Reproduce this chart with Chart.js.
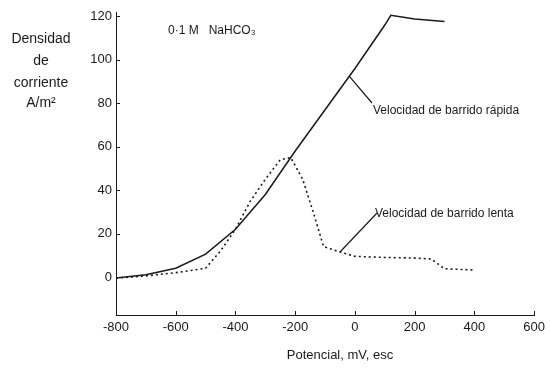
<!DOCTYPE html>
<html>
<head>
<meta charset="utf-8">
<script src="https://cdn.jsdelivr.net/npm/chart.js@4/dist/chart.umd.min.js"></script>
<style>
html,body{margin:0;padding:0;background:#fff;}
#wrap{width:550px;height:374px;position:relative;}
</style>
</head>
<body>
<div id="wrap"><canvas id="chart" width="550" height="374"></canvas></div>
<script>
// Potencial (mV, esc) vs densidad de corriente (A/m2)
var rapida_x = [-800, -700, -600, -500, -400, -300, -200, -100, 0, 100, 120, 200, 300];
var rapida_y = [-0.5, 1, 4, 10.5, 22, 38, 58, 77, 96, 116, 120.5, 118.8, 117.6];

var lenta_x = [-800, -700, -600, -500, -450, -400, -350, -300, -250, -215, -175, -140, -105, -50, 0, 100, 200, 255, 300, 400];
var lenta_y = [-0.5, 0.5, 2, 4, 12, 22, 35, 45, 54, 55, 45, 30, 14, 11.5, 9.5, 9, 8.7, 8.3, 3.8, 3.2];

var y_ticks = [0, 20, 40, 60, 80, 100, 120];
var x_ticks = [-800, -600, -400, -200, 0, 200, 400, 600];

var font_family = "'Liberation Sans', Arial, sans-serif";
var ink = '#1a1a1a';

function pts(xs, ys){
	var out = [];
	for (var i = 0; i < xs.length; i++) {
		out.push({x: xs[i], y: ys[i]});
	}
	return out;
}

// ticks pointing inside + texts + leader lines
var decor = {
	id: 'decor',
	afterDraw: function(chart){
		var c = chart.ctx;
		var xs = chart.scales.x, ys = chart.scales.y;
		var area = chart.chartArea;
		c.save();
		c.strokeStyle = ink;
		c.lineWidth = 1;
		y_ticks.forEach(function(v){
			var p = Math.round(ys.getPixelForValue(v)) + 0.5;
			c.beginPath(); c.moveTo(area.left, p); c.lineTo(area.left + 4, p); c.stroke();
		});
		x_ticks.forEach(function(v){
			var p = Math.round(xs.getPixelForValue(v)) + 0.5;
			c.beginPath(); c.moveTo(p, area.bottom); c.lineTo(p, area.bottom - 4); c.stroke();
		});

		// leader lines
		c.lineWidth = 1.2;
		c.beginPath();
		c.moveTo(xs.getPixelForValue(-20), ys.getPixelForValue(92.6));
		c.lineTo(372, 103);
		c.stroke();
		c.beginPath();
		c.moveTo(xs.getPixelForValue(-50), ys.getPixelForValue(11.5));
		c.lineTo(377, 213);
		c.stroke();

		c.fillStyle = ink;
		c.textBaseline = 'middle';
		c.textAlign = 'left';
		c.font = '12px ' + font_family;
		c.fillText('Velocidad de barrido rápida', 373, 111);
		c.fillText('Velocidad de barrido lenta', 375, 214);
		c.fillText('0·1 M   NaHCO₃', 168, 31);

		c.textAlign = 'center';
		c.font = '14px ' + font_family;
		c.fillText('Densidad', 41, 39);
		c.fillText('de', 41, 61);
		c.fillText('corriente', 41, 83);
		c.fillText('A/m²', 41, 103);
		c.font = '13px ' + font_family;
		c.fillText('Potencial, mV, esc', 340, 355);
		c.restore();
	}
};

var ctx = document.getElementById('chart');
var chart = new Chart(ctx, {
	type: 'line',
	data: {
		datasets: [{
			label: 'Velocidad de barrido rápida',
			data: pts(rapida_x, rapida_y),
			borderColor: ink,
			borderWidth: 1.5,
			pointRadius: 0,
			tension: 0,
			fill: false
		}, {
			label: 'Velocidad de barrido lenta',
			data: pts(lenta_x, lenta_y),
			borderColor: ink,
			borderWidth: 1.6,
			borderDash: [2, 3],
			pointRadius: 0,
			tension: 0,
			fill: false
		}]
	},
	options: {
		responsive: false,
		animation: false,
		layout: { padding: { top: 12, right: 13, left: 0, bottom: 0 } },
		plugins: {
			legend: { display: false },
			tooltip: { enabled: false },
			title: { display: false }
		},
		scales: {
			x: {
				type: 'linear',
				min: -800,
				max: 600,
				afterBuildTicks: function(s){ s.ticks = x_ticks.map(function(v){ return {value: v}; }); },
				afterFit: function(s){ s.height = 59; },
				grid: { display: false, drawTicks: false },
				border: { display: true, color: ink, width: 1 },
				ticks: {
					color: ink,
					padding: 5,
					maxRotation: 0,
					font: { family: font_family, size: 13 },
					callback: function(v){ return String(v); }
				}
			},
			y: {
				type: 'linear',
				min: -17.5,
				max: 122,
				afterBuildTicks: function(s){ s.ticks = y_ticks.map(function(v){ return {value: v}; }); },
				afterFit: function(s){ s.width = 116; },
				grid: { display: false, drawTicks: false },
				border: { display: true, color: ink, width: 1 },
				ticks: {
					color: ink,
					padding: 4,
					font: { family: font_family, size: 13 },
					callback: function(v){ return String(v); }
				}
			}
		}
	},
	plugins: [decor]
});
</script>
</body>
</html>
